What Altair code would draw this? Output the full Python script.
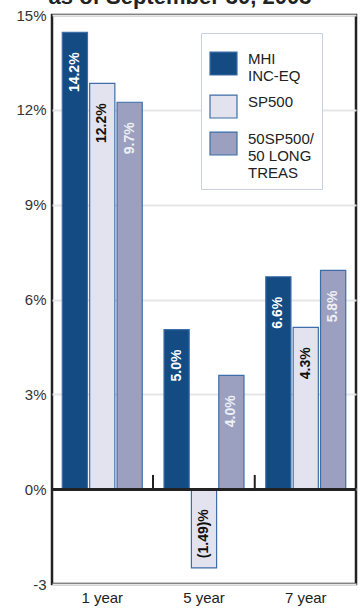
import altair as alt
import pandas as pd

periods = ["1 year", "5 year", "7 year"]
series = ["MHI|INC-EQ", "SP500", "50SP500/|50 LONG|TREAS"]
mhi = [14.45, 5.05, 6.72]
sp500 = [12.84, -2.49, 5.12]
mix = [12.24, 3.60, 6.92]
mhi_lbl = ["14.2%", "5.0%", "6.6%"]
sp500_lbl = ["12.2%", "(1.49)%", "4.3%"]
mix_lbl = ["9.7%", "4.0%", "5.8%"]
y_ticks = [-3, 0, 3, 6, 9, 12, 15]
dividers = ["5 year", "7 year"]
divider_height = 0.45
title_text = ["as of September 30, 2003"]

colors = ["#134b82", "#e2e3ee", "#9ba0c0"]
text_colors = ["#ffffff", "#111111", "#eef0f6"]

rows = []
for vals, lbls, s in [(mhi, mhi_lbl, series[0]), (sp500, sp500_lbl, series[1]), (mix, mix_lbl, series[2])]:
    for p, v, l in zip(periods, vals, lbls):
        rows.append({"period": p, "series": s, "value": v, "label": l, "top": max(v, 0)})
df = pd.DataFrame(rows)

div_df = pd.DataFrame({"period": dividers, "y0": [0] * len(dividers), "y1": [divider_height] * len(dividers)})
title_df = pd.DataFrame({"t": title_text})

xscale = alt.Scale(domain=periods, paddingInner=0.214, paddingOuter=0.101)
yscale = alt.Scale(domain=[-3, 15], nice=False, zero=False)
off_scale = alt.Scale(domain=series, paddingInner=0.08, paddingOuter=0)

bars = alt.Chart(df).mark_bar(stroke="#3d6ea8", strokeWidth=1.2).encode(
    x=alt.X("period:N", scale=xscale, sort=periods,
            axis=alt.Axis(title=None, labelAngle=0, domain=False, ticks=False,
                          labelFontSize=15, labelFont="Liberation Sans",
                          labelColor="#222222", labelPadding=6)),
    xOffset=alt.XOffset("series:N", scale=off_scale, sort=series),
    y=alt.Y("value:Q", scale=yscale,
            axis=alt.Axis(title=None, values=y_ticks, domain=False, ticks=False,
                          labelExpr="datum.value == -3 ? '-3' : datum.value + '%'",
                          labelFontSize=15, labelFont="Liberation Sans",
                          labelColor="#333333", labelPadding=6,
                          gridColor="#e6e6e6", gridWidth=2)),
    y2=alt.datum(0),
    color=alt.Color("series:N", sort=series,
                    scale=alt.Scale(domain=series, range=colors),
                    legend=alt.Legend(
                        title=" ", titleFontSize=8, titlePadding=0,
                        orient="none", legendX=149, legendY=18,
                        fillColor="#ffffff", strokeColor="#c9cfe2", padding=8,
                        symbolType="M-1,-0.85H1V0.85H-1Z", symbolSize=729,
                        symbolStrokeColor="#3d6ea8", symbolStrokeWidth=1.2,
                        labelExpr="split(datum.label, '|')",
                        labelBaseline="alphabetic",
                        labelFontSize=15, labelFont="Liberation Sans",
                        labelColor="#222222", labelOffset=10, rowPadding=8,
                        labelLimit=200)),
)

labels = alt.Chart(df).mark_text(angle=270, align="right", baseline="middle",
                                 fontSize=14, fontWeight="bold",
                                 font="Liberation Sans", yOffset=20).encode(
    x=alt.X("period:N", scale=xscale, sort=periods),
    xOffset=alt.XOffset("series:N", scale=off_scale, sort=series),
    y=alt.Y("top:Q", scale=yscale),
    text="label:N",
    color=alt.Color("series:N", scale=alt.Scale(domain=series, range=text_colors), legend=None),
)

zero = alt.Chart(df).mark_rule(color="#222222", strokeWidth=2.5).encode(y=alt.datum(0))

ticks = alt.Chart(div_df).mark_rule(color="#222222", strokeWidth=2, xOffset=-11).encode(
    x=alt.X("period:N", scale=xscale, sort=periods, bandPosition=0),
    y=alt.Y("y0:Q", scale=yscale),
    y2="y1:Q",
)

title = alt.Chart(title_df).mark_text(fontSize=22, fontWeight="bold", font="Liberation Sans",
                                      color="#222222", align="center",
                                      baseline="alphabetic").encode(
    x=alt.value(128), y=alt.value(-11.5), text="t:N")

chart = alt.layer(bars, labels, zero, ticks, title).resolve_scale(color="independent").properties(
    width=304, height=569,
    autosize=alt.AutoSizeParams(type="none"),
    padding={"left": 52, "top": 15, "right": 4, "bottom": 24},
).configure_view(stroke="#222222", strokeWidth=2.5)

chart.save("out.html", embed_options={"renderer": "svg", "actions": False})
